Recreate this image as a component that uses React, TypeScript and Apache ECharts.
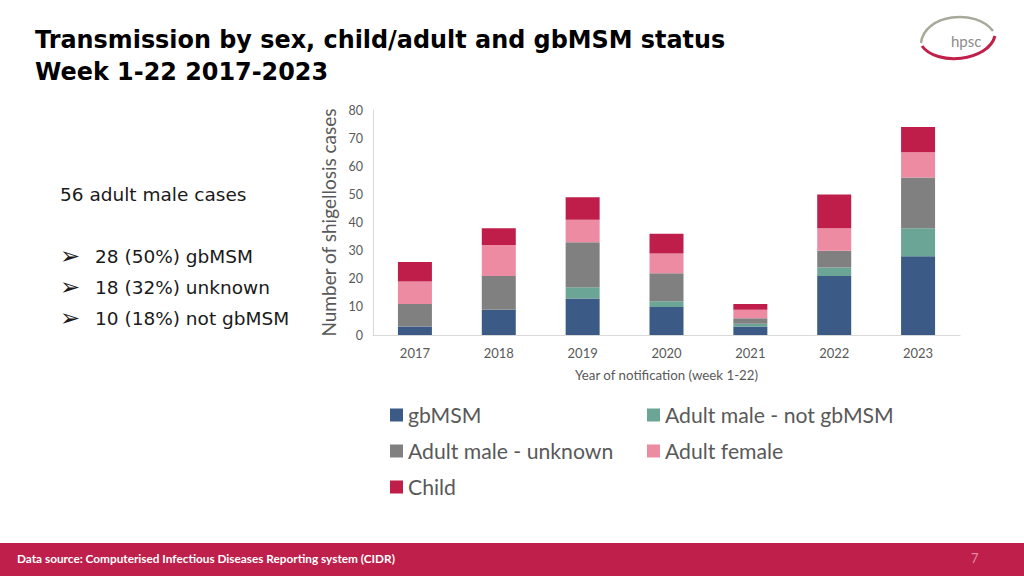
import React, { useEffect, useRef } from "react";
import * as echarts from "echarts";

const years = ["2017", "2018", "2019", "2020", "2021", "2022", "2023"];
const gbMSM = [3, 9, 13, 10, 3, 21, 28];
const notGbMSM = [0, 0, 4, 2, 1, 3, 10];
const unknownMale = [8, 12, 16, 10, 2, 6, 18];
const adultFemale = [8, 11, 8, 7, 3, 8, 9];
const child = [7, 6, 8, 7, 2, 12, 9];

const seriesNames = ["gbMSM", "Adult male - not gbMSM", "Adult male - unknown", "Adult female", "Child"];
const seriesColors = ["#3C5A86", "#6BA595", "#808080", "#EC8BA2", "#BF1E4A"];
const seriesData = [gbMSM, notGbMSM, unknownMale, adultFemale, child];

const titleLines = ["Transmission by sex, child/adult and gbMSM status", "Week 1-22 2017-2023"];
const summaryHeading = "56 adult male cases";
const summaryBullets = ["28 (50%) gbMSM", "18 (32%) unknown", "10 (18%) not gbMSM"];
const footerText = "Data source: Computerised Infectious Diseases Reporting system (CIDR)";
const pageNumber = "7";

const calibri = "Lato, 'Open Sans', sans-serif";

export default function App() {
  const ref = useRef<HTMLDivElement>(null);
  useEffect(() => {
    document.body.style.margin = "0";
    const chart = echarts.init(ref.current!, undefined, { renderer: "svg" });
    const graphic: any[] = [];
    titleLines.forEach((t, i) => {
      graphic.push({
        type: "text",
        left: 35,
        top: 28 + i * 32,
        style: { text: t, fontFamily: "'DejaVu Sans', Verdana, sans-serif", fontWeight: "bold", fontSize: 23.9, fill: "#000000" },
      });
    });
    graphic.push({
      type: "text",
      left: 60,
      top: 185,
      style: { text: summaryHeading, fontFamily: "'DejaVu Sans', sans-serif", fontSize: 18.5, fill: "#1a1a1a" },
    });
    summaryBullets.forEach((b, i) => {
      graphic.push({
        type: "text",
        left: 60,
        top: 244 + i * 31,
        style: { text: "➢", fontFamily: "'DejaVu Sans', sans-serif", fontSize: 24, fill: "#1a1a1a" },
      });
      graphic.push({
        type: "text",
        left: 95,
        top: 247 + i * 31,
        style: { text: b, fontFamily: "'DejaVu Sans', sans-serif", fontSize: 18.5, fill: "#1a1a1a" },
      });
    });
    // footer band
    graphic.push({ type: "rect", shape: { x: 0, y: 543, width: 1024, height: 33 }, style: { fill: "#BE1F4B" } });
    graphic.push({
      type: "text",
      left: 17,
      top: 552,
      style: { text: footerText, fontFamily: calibri, fontWeight: "bold", fontSize: 11.8, fill: "#ffffff" },
    });
    graphic.push({
      type: "text",
      left: 971,
      top: 551,
      style: { text: pageNumber, fontFamily: calibri, fontSize: 13, fill: "#E48AA2" },
    });
    // logo
    graphic.push({
      type: "bezierCurve",
      shape: { x1: 921, y1: 43, cpx1: 924, cpy1: 14, cpx2: 976, cpy2: 8, x2: 993, y2: 31 },
      style: { stroke: "#A9A99A", lineWidth: 2.5, fill: null },
    });
    graphic.push({
      type: "bezierCurve",
      shape: { x1: 922, y1: 46, cpx1: 936, cpy1: 66, cpx2: 988, cpy2: 62, x2: 995, y2: 36 },
      style: { stroke: "#C0214A", lineWidth: 3, fill: null },
    });
    graphic.push({
      type: "text",
      left: 951,
      top: 33,
      style: { text: "hpsc", fontFamily: calibri, fontSize: 15, fill: "#8C8C8C" },
    });

    const legendText = { fontFamily: calibri, fontSize: 21.2, lineHeight: 24, color: "#595959" };
    chart.setOption({
      animation: false,
      backgroundColor: "#ffffff",
      grid: { left: 373, right: 64, top: 110, bottom: 241 },
      legend: [
        {
          left: 385,
          top: 398,
          orient: "vertical",
          itemWidth: 13,
          itemHeight: 13,
          itemGap: 12,
          icon: "rect",
          data: [seriesNames[0], seriesNames[2], seriesNames[4]],
          textStyle: legendText,
        },
        {
          left: 642,
          top: 398,
          orient: "vertical",
          itemWidth: 13,
          itemHeight: 13,
          itemGap: 12,
          icon: "rect",
          data: [seriesNames[1], seriesNames[3]],
          textStyle: legendText,
        },
      ],
      xAxis: {
        type: "category",
        data: years,
        axisLine: { lineStyle: { color: "#D9D9D9", width: 1 } },
        axisTick: { show: false },
        axisLabel: { color: "#595959", fontFamily: calibri, fontSize: 13, margin: 11 },
        name: "Year of notification (week 1-22)",
        nameLocation: "middle",
        nameGap: 33,
        nameTextStyle: { color: "#595959", fontFamily: calibri, fontSize: 13.3 },
      },
      yAxis: {
        type: "value",
        min: 0,
        max: 80,
        interval: 10,
        axisLine: { show: true, lineStyle: { color: "#D9D9D9", width: 1 } },
        axisTick: { show: false },
        splitLine: { show: false },
        axisLabel: { color: "#595959", fontFamily: calibri, fontSize: 12.5, margin: 10 },
        name: "Number of shigellosis cases",
        nameLocation: "middle",
        nameGap: 33,
        nameTextStyle: { color: "#595959", fontFamily: calibri, fontSize: 19 },
      },
      series: seriesNames.map((n, i) => ({
        name: n,
        type: "bar",
        stack: "total",
        barWidth: 34,
        data: seriesData[i],
        itemStyle: { color: seriesColors[i] },
      })),
      graphic,
    });
    return () => chart.dispose();
  }, []);
  return <div ref={ref} style={{ position: "absolute", left: 0, top: 0, width: 1024, height: 576 }} />;
}
